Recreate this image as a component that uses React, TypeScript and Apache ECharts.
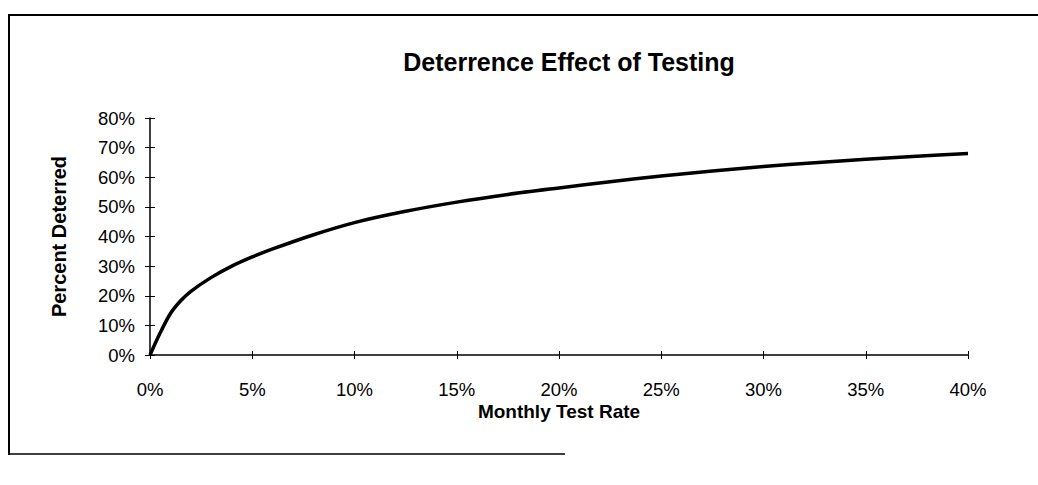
import React, { useEffect, useRef } from "react";
import * as echarts from "echarts";

const titleText = "Deterrence Effect of Testing";
const xAxisName = "Monthly Test Rate";
const yAxisName = "Percent Deterred";

// Monthly test rate (%)
const testRate = [0, 0.5, 1, 1.5, 2, 3, 4, 5, 6, 8, 10, 12.5, 15, 17.5, 20, 22.5, 25, 27.5, 30, 32.5, 35, 37.5, 40];
// Percent deterred (%)
const deterred = [0, 7.5, 14, 18.3, 21.5, 26.2, 30, 33.1, 35.8, 40.6, 44.7, 48.5, 51.6, 54.2, 56.4, 58.5, 60.4, 62.1, 63.6, 64.9, 66.1, 67.1, 68];

const xTicks = { min: 0, max: 40, interval: 5 };
const yTicks = { min: 0, max: 80, interval: 10 };

const FONT = "'Liberation Sans', Arial, Helvetica, sans-serif";

export default function App() {
  const ref = useRef<HTMLDivElement>(null);
  useEffect(() => {
    if (!ref.current) return;
    const chart = echarts.init(ref.current, undefined, { renderer: "svg" });
    const pts = testRate.map((x, i) => [x, deterred[i]]);
    const pct = (v: number) => `${v}%`;
    const baseX = {
      type: "value" as const,
      min: xTicks.min,
      max: xTicks.max,
      interval: xTicks.interval,
      splitLine: { show: false },
    };
    const baseY = {
      type: "value" as const,
      min: yTicks.min,
      max: yTicks.max,
      interval: yTicks.interval,
      splitLine: { show: false },
    };
    chart.setOption({
      animation: false,
      backgroundColor: "#ffffff",
      textStyle: { fontFamily: FONT },
      title: {
        text: titleText,
        left: 564,
        textAlign: "center",
        top: 44,
        textStyle: { fontSize: 25, fontWeight: "bold", color: "#000", fontFamily: FONT },
      },
      grid: { left: 150, right: 70, top: 118, bottom: 130 },
      xAxis: [
        {
          ...baseX,
          name: xAxisName,
          nameLocation: "middle",
          nameGap: 47,
          nameTextStyle: { fontSize: 19, fontWeight: "bold", color: "#000", fontFamily: FONT },
          axisLine: { show: true, lineStyle: { color: "#000", width: 1.5 } },
          axisTick: { show: true, length: 4, lineStyle: { color: "#000", width: 1 } },
          axisLabel: { formatter: pct, fontSize: 18.5, color: "#000", margin: 25, fontFamily: FONT },
        },
        {
          ...baseX,
          position: "bottom",
          axisLine: { show: false },
          axisTick: { show: true, inside: true, length: 4, lineStyle: { color: "#000", width: 1 } },
          axisLabel: { show: false },
        },
      ],
      yAxis: [
        {
          ...baseY,
          name: yAxisName,
          nameLocation: "middle",
          nameGap: 81,
          nameRotate: 90,
          nameTextStyle: { fontSize: 20, fontWeight: "bold", color: "#000", fontFamily: FONT },
          axisLine: { show: true, lineStyle: { color: "#000", width: 1.5 } },
          axisTick: { show: true, length: 5, lineStyle: { color: "#000", width: 1 } },
          axisLabel: { formatter: pct, fontSize: 18.5, color: "#000", margin: 15, fontFamily: FONT },
        },
        {
          ...baseY,
          position: "left",
          axisLine: { show: false },
          axisTick: { show: true, inside: true, length: 5, lineStyle: { color: "#000", width: 1 } },
          axisLabel: { show: false },
        },
      ],
      series: [
        {
          type: "line",
          data: pts,
          smooth: 0.3,
          showSymbol: false,
          symbol: "none",
          lineStyle: { color: "#000", width: 3.5 },
          xAxisIndex: 0,
          yAxisIndex: 0,
        },
      ],
      graphic: [
        { type: "line", shape: { x1: 8, y1: 15, x2: 1038, y2: 15 }, style: { stroke: "#000", lineWidth: 2 } },
        { type: "line", shape: { x1: 9, y1: 14, x2: 9, y2: 455 }, style: { stroke: "#000", lineWidth: 2 } },
        { type: "line", shape: { x1: 9, y1: 454, x2: 565, y2: 454 }, style: { stroke: "#000", lineWidth: 1.5 } },
      ],
    });
    return () => chart.dispose();
  }, []);
  return (
    <div
      ref={ref}
      style={{ position: "absolute", left: 0, top: 0, width: 1038, height: 485 }}
    />
  );
}
